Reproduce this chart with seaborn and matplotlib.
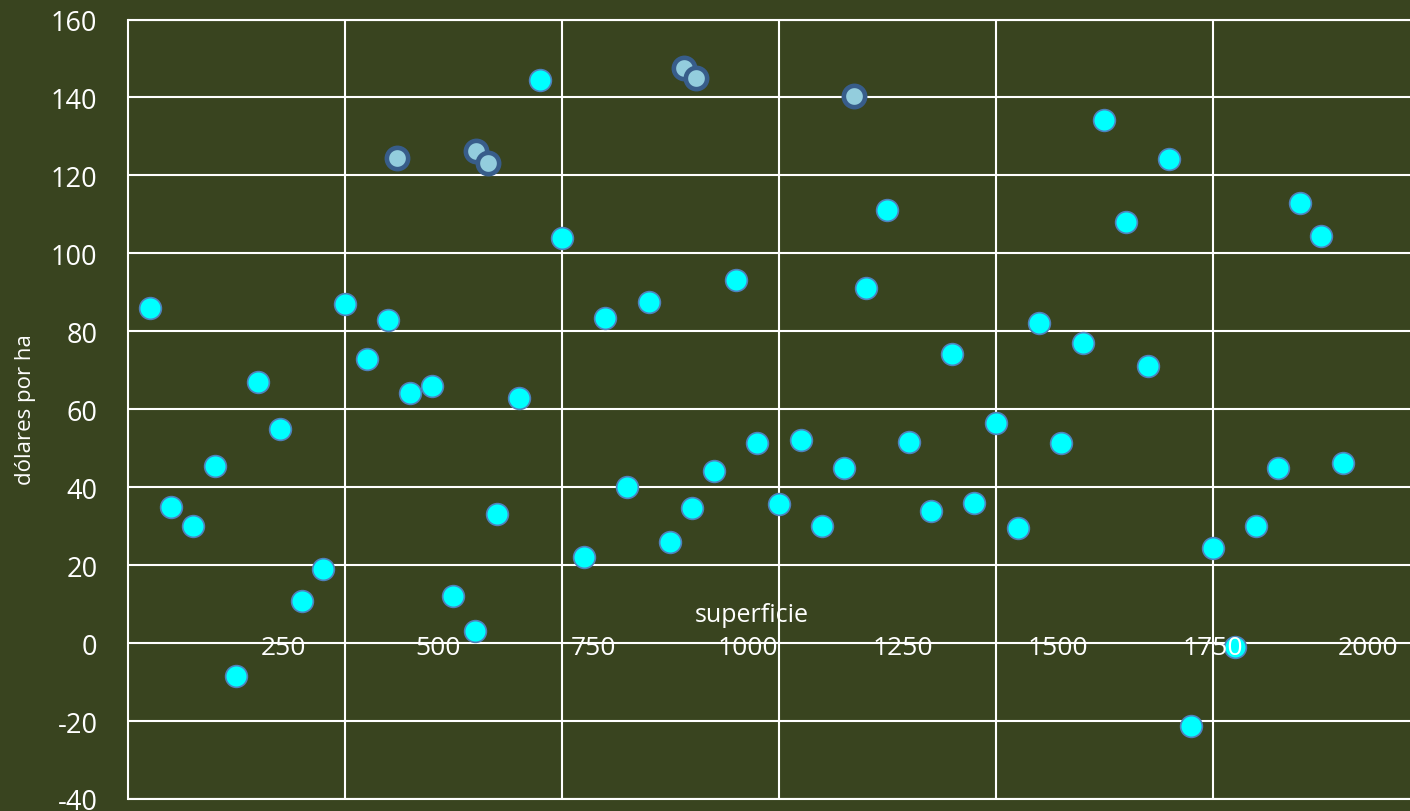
import numpy as np
import pandas as pd
import seaborn as sns
import matplotlib.pyplot as plt

# data
superficie = [35, 70, 105, 140, 175, 210, 245, 280, 315, 350,
              385, 420, 455, 490, 525, 560, 595, 630, 665, 700,
              735, 770, 805, 840, 875, 910, 945, 980, 1015, 1050,
              1085, 1120, 1155, 1190, 1225, 1260, 1295, 1330, 1365, 1400,
              1435, 1470, 1505, 1540, 1575, 1610, 1645, 1680, 1715, 1750,
              1785, 1820, 1855, 1890, 1925, 1960]
dolares = [86, 35, 30, 45.5, -8.5, 67, 55, 10.7, 19, 87,
           73, 83, 64.2, 66, 12.2, 3, 33, 63, 144.5, 104,
           22.2, 83.5, 40, 87.6, 26, 34.7, 44.2, 93.2, 51.4, 35.6,
           52, 30, 44.9, 91.2, 111, 51.5, 33.9, 74.1, 36, 56.4,
           29.5, 82.1, 51.4, 77, 134.2, 108, 71.2, 124.2, -21.3, 24.5,
           -1, 30, 45, 112.9, 104.5, 46.3]

# highlighted points
sup_destacados = [434, 561, 581, 897, 916, 1171]
dol_destacados = [124.4, 126.2, 123.3, 147.5, 144.9, 140.3]

xtick_labels = [250, 500, 750, 1000, 1250, 1500, 1750, 2000]
xgrid = [350, 700, 1050, 1400, 1750]
yticks = [-40, -20, 0, 20, 40, 60, 80, 100, 120, 140, 160]

df = pd.DataFrame({"superficie": superficie, "dolares": dolares})
df_hi = pd.DataFrame({"superficie": sup_destacados, "dolares": dol_destacados})

bg = "#39441F"
sns.set_style("white")
plt.rcParams["font.family"] = ["Open Sans", "DejaVu Sans"]
plt.rcParams["axes.unicode_minus"] = False

fig = plt.figure(figsize=(14.1, 8.12), dpi=100, facecolor=bg)
ax = fig.add_axes([128 / 1410, 1 - 800 / 812, (1410 - 128) / 1410, (800 - 20.5) / 812])
ax.set_facecolor(bg)

sns.scatterplot(data=df, x="superficie", y="dolares", ax=ax, s=245,
                color="#00FFFF", edgecolor="#4F81BD", linewidth=1.2, zorder=3)
sns.scatterplot(data=df_hi, x="superficie", y="dolares", ax=ax, s=235,
                color="#93CDDD", edgecolor="#385D8A", linewidth=3.3, zorder=3)

ax.set_xlim(0, 2068)
ax.set_ylim(-40, 160)
ax.set_axisbelow(True)

# grid: horizontal every 20, vertical every 350
ax.set_yticks(yticks)
ax.set_xticks(xgrid, minor=True)
ax.set_xticks([])
ax.grid(axis="y", which="major", color="white", linewidth=1.5)
ax.grid(axis="x", which="minor", color="white", linewidth=1.5)
ax.tick_params(axis="x", which="both", length=0, labelbottom=False)
ax.tick_params(axis="y", length=0, pad=22, labelsize=19.5, labelcolor="white")

for sp in ["top", "right", "bottom"]:
    ax.spines[sp].set_visible(False)
ax.spines["left"].set_color("white")
ax.spines["left"].set_linewidth(1.5)
ax.axhline(160, color="white", linewidth=1.5, zorder=0.5, clip_on=False)
ax.axhline(-40, color="white", linewidth=1.5, zorder=0.5, clip_on=False)

# x labels sit on the zero line
for v in xtick_labels:
    ax.annotate(str(v), xy=(v, 0), xytext=(0, -3.5), textcoords="offset points",
                ha="center", va="center", color="white", fontsize=19, zorder=5)

ax.set_xlabel("")
ax.set_ylabel("")
fig.text(752 / 1410, 1 - 615 / 812, "superficie", ha="center", va="center",
         color="white", fontsize=18)
fig.text(26 / 1410, 1 - 410 / 812, "dólares por ha", ha="center", va="center",
         rotation=90, color="white", fontsize=16)

fig.savefig("out.png", dpi=100, facecolor=bg)
